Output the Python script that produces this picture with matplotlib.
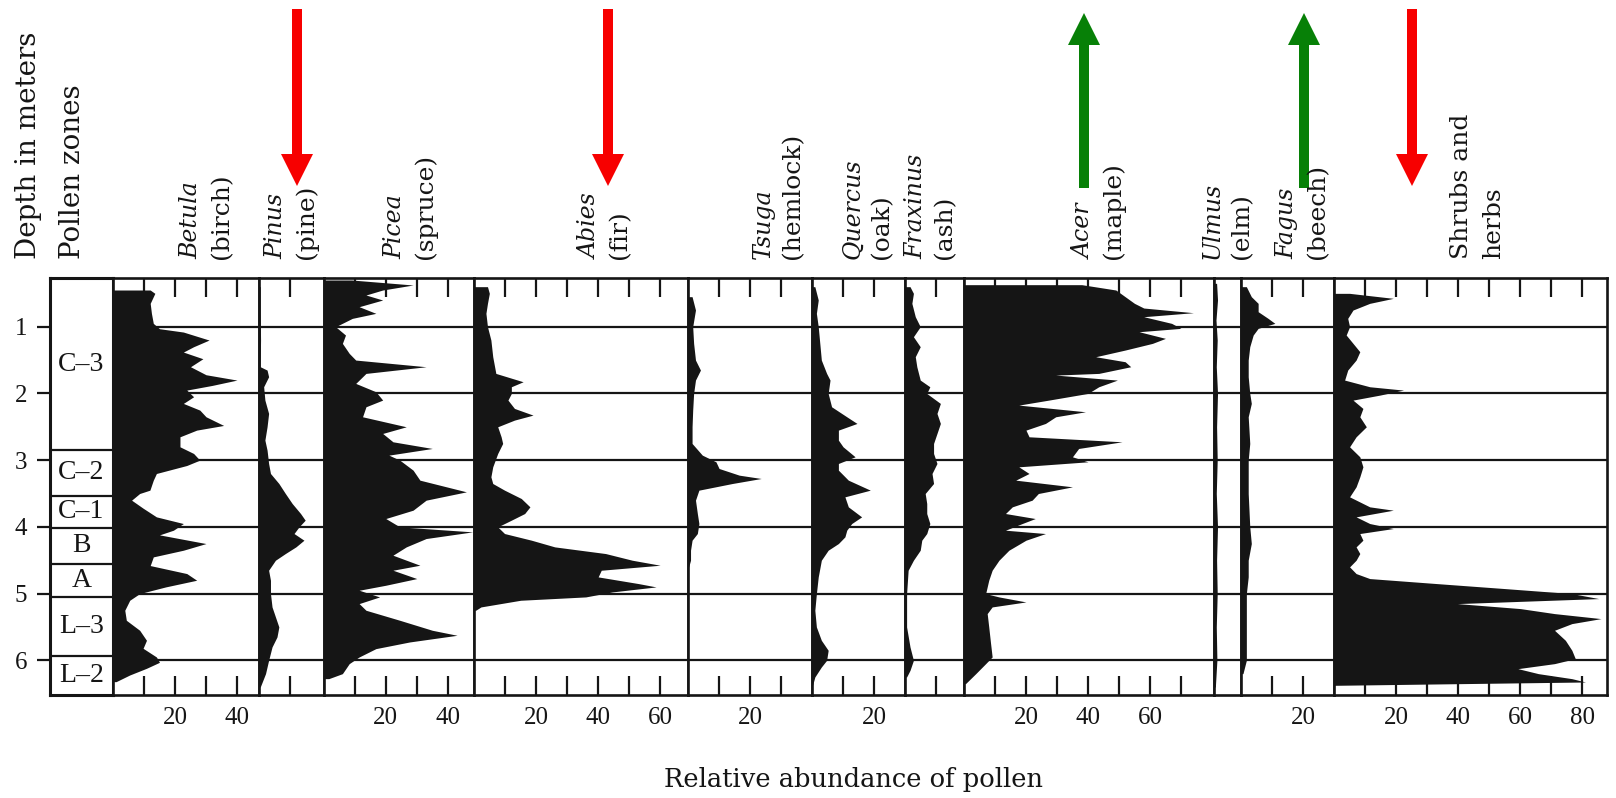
import numpy as np
import matplotlib.pyplot as plt

plt.rcParams['font.family'] = 'DejaVu Serif'
INK = '#151515'
NUM_FONT = 'Liberation Serif'

# depth (m), percent pairs
betula = np.array([
    [0.45, 12], [0.50, 13.5], [0.65, 12], [0.80, 12.4], [0.95, 13], [1.03, 15],
    [1.08, 22.7], [1.20, 31], [1.30, 26], [1.38, 22.7], [1.48, 29], [1.60, 25],
    [1.72, 30], [1.80, 40], [1.88, 32], [1.95, 23.8], [2.05, 26], [2.15, 22.7],
    [2.25, 28], [2.35, 30], [2.48, 35.7], [2.55, 27], [2.65, 21.6], [2.80, 21.6],
    [2.90, 26], [3.00, 28], [3.08, 23.8], [3.20, 14], [3.30, 13], [3.45, 11.9],
    [3.50, 8.6], [3.60, 6], [3.72, 9.7], [3.85, 14], [3.95, 22.7], [4.05, 19.5],
    [4.12, 15], [4.25, 30], [4.35, 22.7], [4.45, 13], [4.58, 12], [4.70, 23.8],
    [4.80, 27], [4.90, 17], [5.00, 8.6], [5.10, 5.4], [5.25, 3.8], [5.40, 4.3],
    [5.55, 8.6], [5.70, 10.8], [5.82, 9.7], [5.95, 14], [6.03, 15], [6.12, 10.8],
    [6.22, 5.4], [6.32, 1]])

pinus = np.array([
    [0.40, 0.5], [0.80, 0.5], [1.20, 0.6], [1.60, 0.5], [1.65, 2.7], [1.75, 3.2],
    [1.90, 1.6], [2.10, 2], [2.30, 3.2], [2.50, 2.7], [2.70, 2], [2.85, 2.7],
    [3.05, 3.2], [3.20, 3.8], [3.35, 6.5], [3.50, 8.6], [3.65, 10.8], [3.80, 13.5],
    [3.90, 15], [4.00, 13], [4.10, 11.4], [4.20, 14.6], [4.30, 12], [4.40, 8.6],
    [4.50, 5.4], [4.65, 3.2], [4.80, 3.8], [5.00, 3.8], [5.20, 4.3], [5.35, 5.4],
    [5.50, 6.5], [5.65, 5.9], [5.80, 4.3], [6.00, 3.2], [6.20, 2.2], [6.40, 0.5]])

picea = np.array([
    [0.30, 9], [0.375, 28.8], [0.45, 19], [0.525, 13.6], [0.60, 19], [0.70, 11.4],
    [0.80, 16.8], [0.875, 9.2], [1.00, 3.8], [1.125, 7], [1.25, 6], [1.40, 8.2],
    [1.50, 10.3], [1.60, 33], [1.70, 13.6], [1.85, 10.3], [1.975, 16.8], [2.10, 19],
    [2.20, 13.6], [2.35, 12.5], [2.50, 26.6], [2.60, 19], [2.725, 22.3], [2.825, 35],
    [2.925, 21], [3.00, 24.5], [3.15, 28.8], [3.30, 31], [3.475, 46], [3.60, 33],
    [3.75, 28.8], [3.875, 20], [4.00, 24.5], [4.075, 48], [4.175, 33], [4.30, 26.6],
    [4.425, 22.3], [4.575, 31], [4.65, 22.3], [4.775, 30], [4.875, 20], [4.95, 11.4],
    [5.05, 18], [5.15, 11.4], [5.25, 13.6], [5.40, 24.5], [5.55, 35], [5.625, 43],
    [5.725, 27.7], [5.825, 16.8], [5.95, 11.4], [6.05, 8.2], [6.20, 6], [6.275, 1.6]])

abies = np.array([
    [0.40, 4.3], [0.50, 4.9], [0.65, 4.3], [0.80, 3.8], [1.00, 4.3], [1.20, 5.4],
    [1.45, 6], [1.70, 7], [1.825, 15.8], [1.90, 12], [2.00, 12], [2.10, 10.9],
    [2.225, 13], [2.325, 19], [2.40, 13], [2.50, 7.6], [2.65, 8.7], [2.75, 9.2],
    [2.90, 7.6], [3.10, 6], [3.25, 5.4], [3.35, 6], [3.45, 9.8], [3.575, 15.2],
    [3.70, 18], [3.80, 16.3], [3.90, 12], [4.00, 7.6], [4.10, 9.8], [4.20, 18.5],
    [4.30, 26], [4.40, 42.4], [4.50, 51], [4.575, 60], [4.65, 41], [4.75, 40],
    [4.85, 53], [4.90, 58.7], [4.975, 44.6], [5.05, 36], [5.10, 15], [5.20, 2.2],
    [5.25, 0.5]])

tsuga = np.array([
    [0.55, 1.3], [0.75, 2.4], [1.00, 1.5], [1.25, 1.8], [1.50, 2.4], [1.65, 4],
    [1.80, 2.4], [2.00, 1.8], [2.25, 1.5], [2.50, 1.3], [2.75, 1.3], [2.925, 4.6],
    [3.025, 9], [3.125, 10], [3.225, 16.5], [3.275, 23.6], [3.35, 14.3], [3.45, 3.5],
    [3.60, 2.4], [3.80, 3], [3.95, 3.5], [4.10, 3], [4.20, 1.3], [4.35, 0.8],
    [4.50, 0.8], [4.60, 0.2]])

quercus = np.array([
    [0.40, 0.9], [0.60, 2], [0.80, 1.4], [1.00, 2], [1.25, 2.5], [1.50, 3],
    [1.70, 4.7], [1.80, 5.8], [2.00, 5.2], [2.20, 6.3], [2.35, 11.2], [2.45, 14.5],
    [2.55, 8.5], [2.70, 8.5], [2.80, 10], [2.95, 13.9], [3.05, 8.5], [3.15, 8.5],
    [3.30, 11.7], [3.45, 18.8], [3.55, 10.6], [3.70, 11.7], [3.85, 16], [3.95, 12.8],
    [4.05, 11.2], [4.15, 10.6], [4.25, 8.5], [4.35, 5.2], [4.50, 3], [4.75, 2],
    [5.00, 1.4], [5.25, 0.9], [5.50, 1.4], [5.70, 3], [5.85, 5.2], [6.00, 4.7],
    [6.10, 3], [6.25, 0.9], [6.40, 0]])

fraxinus = np.array([
    [0.40, 1.6], [0.50, 2.7], [0.65, 2.2], [0.85, 3.3], [1.00, 4.9], [1.15, 2.7],
    [1.30, 4.9], [1.45, 3.3], [1.60, 3.8], [1.80, 4.9], [1.90, 8], [2.00, 7],
    [2.15, 11.4], [2.30, 10.3], [2.45, 11.4], [2.60, 10.3], [2.75, 9.2], [2.90, 9.2],
    [3.05, 10.3], [3.20, 8.7], [3.35, 9.2], [3.50, 6.5], [3.65, 7], [3.80, 7],
    [3.95, 8], [4.10, 7], [4.20, 5.4], [4.35, 4.9], [4.50, 2.7], [4.65, 1],
    [5.00, 0.5], [5.50, 0.5], [5.80, 1.6], [6.00, 2.7], [6.15, 1.6], [6.25, 0.5]])

acer = np.array([
    [0.37, 38], [0.45, 49], [0.55, 52], [0.65, 55], [0.72, 58], [0.79, 74],
    [0.85, 58], [0.95, 67], [1.025, 70], [1.075, 56.5], [1.175, 65],
    [1.25, 60.8], [1.35, 52], [1.45, 42.5], [1.525, 52], [1.60, 53.8], [1.70, 43.5],
    [1.725, 29.6], [1.80, 49.5], [1.90, 43.5], [2.00, 40], [2.10, 27.4], [2.175, 17.7],
    [2.275, 39.2], [2.35, 29.6], [2.45, 26.3], [2.55, 20], [2.65, 21], [2.725, 51],
    [2.825, 37], [2.95, 35], [3.025, 40], [3.10, 17.7], [3.20, 21], [3.30, 16.7],
    [3.40, 35], [3.50, 24], [3.60, 22], [3.70, 15.6], [3.80, 13.4], [3.875, 23],
    [3.95, 18.8], [4.05, 13.4], [4.10, 26.3], [4.20, 20], [4.35, 14.5], [4.50, 11.3],
    [4.65, 9.1], [4.80, 8], [5.00, 7], [5.05, 11.3], [5.125, 20], [5.20, 9.1],
    [5.30, 7.5], [5.50, 8], [5.75, 8.6], [5.95, 9.1], [6.05, 7], [6.20, 3.8],
    [6.35, 0.5]])

ulmus = np.array([
    [0.35, 1.0], [0.60, 1.3], [0.90, 0.8], [1.20, 1.2], [1.60, 0.9], [2.00, 1.3],
    [2.50, 1.0], [3.00, 1.2], [3.50, 0.9], [4.00, 1.3], [4.50, 1.0], [5.00, 1.2],
    [5.50, 0.9], [6.00, 1.1], [6.40, 0.6]])

fagus = np.array([
    [0.40, 1.6], [0.55, 3.2], [0.65, 5.4], [0.775, 5.4], [0.875, 8.6], [0.95, 10.8],
    [1.025, 5.4], [1.125, 3.8], [1.30, 2.7], [1.50, 2.2], [1.75, 2.2], [2.00, 2.7],
    [2.15, 3.2], [2.35, 2.2], [2.75, 2.7], [3.00, 2.2], [3.50, 2.2], [4.00, 2.7],
    [4.25, 3.2], [4.50, 2.2], [4.75, 2.2], [5.00, 1.6], [5.50, 1.6], [6.00, 1.6],
    [6.20, 0.5]])

shrubs = np.array([
    [0.50, 4.9], [0.575, 19], [0.65, 11.4], [0.75, 6], [0.875, 4.3], [1.00, 4.9],
    [1.125, 3.8], [1.25, 6], [1.375, 8.2], [1.50, 7], [1.65, 4.3], [1.80, 3.3],
    [1.90, 11.4], [1.95, 22.3], [2.025, 14.7], [2.10, 6], [2.225, 9.2], [2.35, 8.2],
    [2.50, 10.3], [2.65, 7], [2.80, 4.9], [2.95, 8.2], [3.10, 9.2], [3.25, 8.2],
    [3.40, 7], [3.55, 4.9], [3.70, 11.4], [3.75, 19], [3.85, 7], [3.95, 11.4],
    [4.025, 19], [4.10, 8.2], [4.20, 9.2], [4.30, 7], [4.40, 8.2], [4.50, 7],
    [4.60, 4.9], [4.70, 7], [4.775, 11.4], [4.85, 33], [4.925, 55], [5.00, 76.6],
    [5.075, 85.3], [5.15, 39.7], [5.225, 60], [5.30, 71], [5.375, 86], [5.45, 76.6],
    [5.55, 71], [5.70, 74.5], [5.85, 76.6], [5.975, 77.7], [6.05, 71], [6.125, 59.2],
    [6.20, 65.8], [6.275, 76.6], [6.325, 81], [6.375, 0]])

genus = ['Betula', 'Pinus', 'Picea', 'Abies', 'Tsuga', 'Quercus', 'Fraxinus',
         'Acer', 'Ulmus', 'Fagus', None]
common = ['(birch)', '(pine)', '(spruce)', '(fir)', '(hemlock)', '(oak)', '(ash)',
          '(maple)', '(elm)', '(beech)', None]
series = [betula, pinus, picea, abies, tsuga, quercus, fraxinus,
          acer, ulmus, fagus, shrubs]
panel_max = [47, 21, 48.5, 69, 40, 30, 19, 80.5, 9, 30, 88]
labelled = [[20, 40], [], [20, 40], [20, 40, 60], [20], [20], [],
            [20, 40, 60], [], [20], [20, 40, 60, 80]]

zone_names = ['C–3', 'C–2', 'C–1', 'B', 'A', 'L–3', 'L–2']
zone_edges = [0.27, 2.85, 3.53, 4.01, 4.55, 5.05, 5.93, 6.52]
depth_marks = [1, 2, 3, 4, 5, 6]

# pixel layout of the 1616 x 798 canvas
W, H = 1616, 798
TOP, BOT = 278, 695
ZONE_X0, PANEL_X0 = 50, 113
PX_PER_PCT = 3.1
LABEL_BASE = 259
name_x = [(191, 222), (276, 306), (395, 425), (590, 620), (763, 793),
          (853, 882), (916, 945), (1084, 1113), (1212, 1242), (1287, 1318),
          (1461, 1494)]
arrows = [(297, 'down', '#f70000'), (608, 'down', '#f70000'),
          (1084, 'up', '#078007'), (1304, 'up', '#078007'),
          (1412, 'down', '#f70000')]

fig = plt.figure(figsize=(W / 100, H / 100), dpi=100, facecolor='white')


def box(x0, width):
    return [x0 / W, 1 - BOT / H, width / W, (BOT - TOP) / H]


def style_spines(ax, lw=1.9):
    for s in ax.spines.values():
        s.set_linewidth(lw)
        s.set_color(INK)


# zone column with depth scale
zax = fig.add_axes(box(ZONE_X0, PANEL_X0 - ZONE_X0))
zax.set_xlim(0, 1)
zax.set_ylim(zone_edges[-1], zone_edges[0])
zax.set_xticks([])
zax.set_yticks(depth_marks)
zax.set_yticklabels([str(d) for d in depth_marks], fontfamily=NUM_FONT, fontsize=18,
                    color=INK)
zax.tick_params(axis='y', direction='out', length=9.5, width=1.6, pad=7, colors=INK)
for e in zone_edges[1:-1]:
    zax.axhline(e, color=INK, lw=1.6)
for i, name in enumerate(zone_names):
    mid = (zone_edges[i] + zone_edges[i + 1]) / 2
    zax.text(0.5, mid, name, ha='center', va='center', fontsize=20,
             fontfamily=NUM_FONT, color=INK)
style_spines(zax, 2.2)

# one strip per taxon, all sharing the same percent scale
x0 = PANEL_X0
for k, data in enumerate(series):
    width = panel_max[k]
    ax = fig.add_axes(box(x0, width * PX_PER_PCT))
    ax.fill_betweenx(data[:, 0], 0, data[:, 1], color=INK, lw=0)
    for d in depth_marks:
        ax.axhline(d, color=INK, lw=1.6)
    ax.set_xlim(0, width)
    ax.set_ylim(zone_edges[-1], zone_edges[0])
    ticks = np.arange(10, width - 1, 10)
    ax.set_xticks(ticks)
    ax.set_xticklabels([str(int(t)) if t in labelled[k] else '' for t in ticks],
                       fontfamily=NUM_FONT, fontsize=18, color=INK)
    ax.tick_params(axis='x', direction='in', length=14, width=1.6, top=True,
                   bottom=True, pad=9, colors=INK)
    ax.set_yticks([])
    style_spines(ax)

    gx, cx = name_x[k]
    yb = 1 - LABEL_BASE / H
    if genus[k]:
        fig.text(gx / W, yb, genus[k], rotation=90, ha='center', va='bottom',
                 fontsize=17, style='italic', color=INK)
        fig.text(cx / W, yb, common[k], rotation=90, ha='center', va='bottom',
                 fontsize=18, color=INK)
    else:
        fig.text(gx / W, yb, 'Shrubs and', rotation=90, ha='center', va='bottom',
                 fontsize=18, color=INK)
        fig.text(cx / W, yb, 'herbs', rotation=90, ha='center', va='bottom',
                 fontsize=18, color=INK)
    x0 += width * PX_PER_PCT

fig.text(28 / W, 1 - LABEL_BASE / H, 'Depth in meters', rotation=90, ha='center',
         va='bottom', fontsize=20, color=INK)
fig.text(72 / W, 1 - LABEL_BASE / H, 'Pollen zones', rotation=90, ha='center',
         va='bottom', fontsize=20, color=INK)
fig.text(854 / W, 1 - 780 / H, 'Relative abundance of pollen', ha='center',
         va='center', fontsize=18.5, color=INK)

# trend arrows above the taxa
over = fig.add_axes([0, 0, 1, 1], facecolor='none')
over.set_xlim(0, W)
over.set_ylim(H, 0)
over.axis('off')
for ax_x, way, col in arrows:
    if way == 'down':
        y0, y1 = 9, 186
    else:
        y0, y1 = 188, 13
    over.arrow(ax_x, y0, 0, y1 - y0, width=10, head_width=32, head_length=32,
               length_includes_head=True, color=col, lw=0)

fig.savefig('out.png', dpi=100, facecolor='white')
